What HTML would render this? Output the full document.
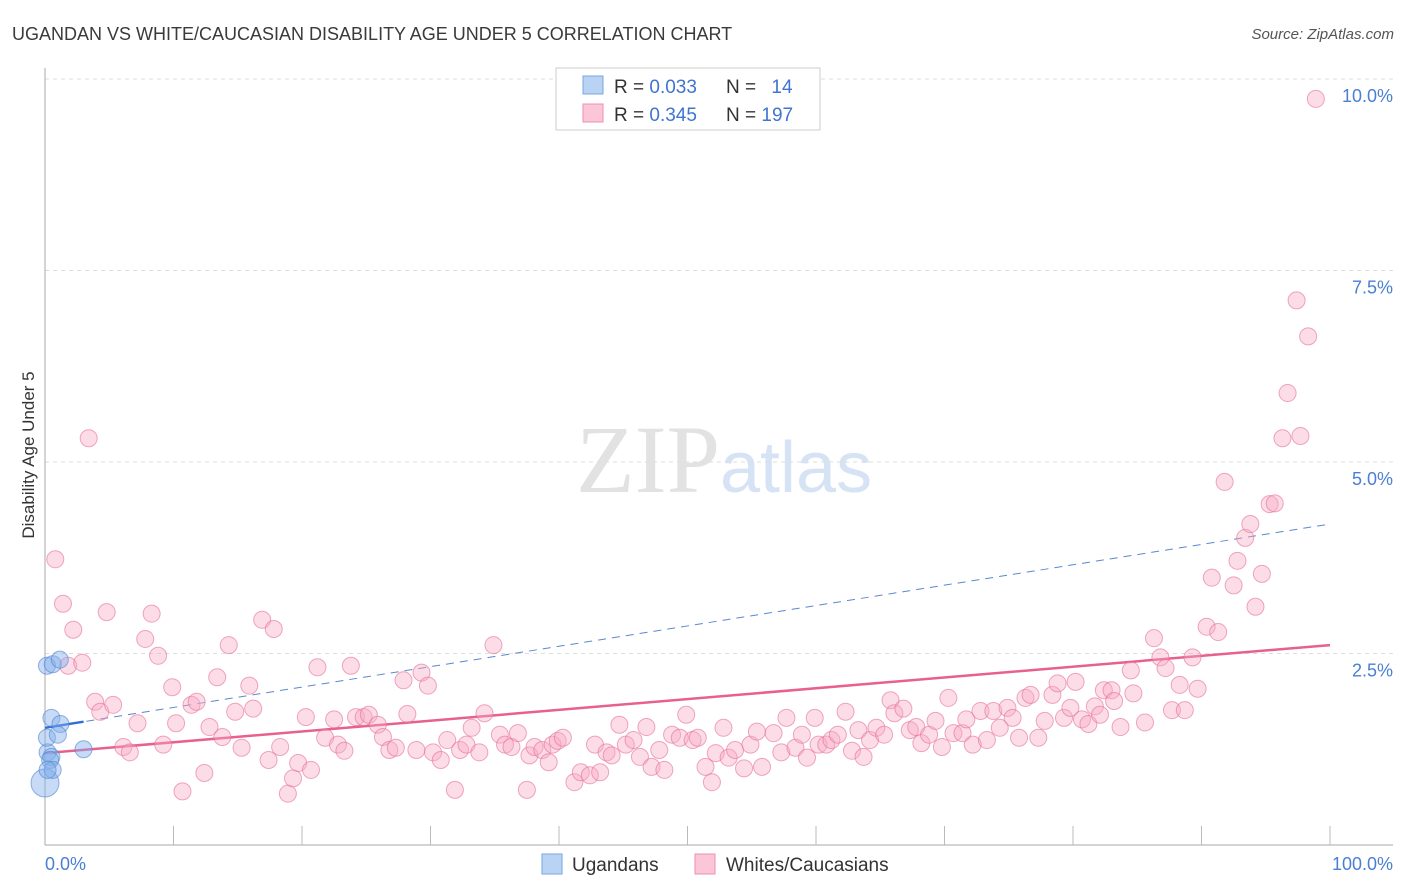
<!DOCTYPE html>
<html><head><meta charset="utf-8"><style>
body{margin:0;background:#fff;font-family:"Liberation Sans",sans-serif;}
svg{display:block}
</style></head><body>
<svg id="chart" width="1406" height="892">
<text x="12" y="40" font-size="18" fill="#3a3a3a">UGANDAN VS WHITE/CAUCASIAN DISABILITY AGE UNDER 5 CORRELATION CHART</text>
<text x="1394" y="39" font-size="15" fill="#555" font-style="italic" text-anchor="end">Source: ZipAtlas.com</text>
<text x="720" y="492" font-size="96" fill="#e2e2e2" text-anchor="end" font-family="Liberation Serif,serif">ZIP</text>
<text x="720" y="492" font-size="72" fill="#d6e3f5">atlas</text>
<text transform="translate(34,455) rotate(-90)" font-size="17" fill="#333" text-anchor="middle">Disability Age Under 5</text>
<g id="grid"></g><g id="axes"></g><g id="lines"></g><g id="pts"></g>
<g>
<rect x="556" y="68" width="264" height="62" fill="#fff" stroke="#ccc"/>
<rect x="583" y="76" width="20" height="18" fill="#b9d3f5" stroke="#7aa6e0"/>
<rect x="583" y="104" width="20" height="18" fill="#fbc6d6" stroke="#ee8fb0"/>
<text x="614" y="93" font-size="19" fill="#333">R = <tspan fill="#3f74d0">0.033</tspan></text>
<text x="726" y="93" font-size="19" fill="#333">N = <tspan fill="#3f74d0" dx="10">14</tspan></text>
<text x="614" y="121" font-size="19" fill="#333">R = <tspan fill="#3f74d0">0.345</tspan></text>
<text x="726" y="121" font-size="19" fill="#333">N = <tspan fill="#3f74d0">197</tspan></text>
</g>
<g>
<rect x="542" y="854" width="20" height="20" fill="#b9d3f5" stroke="#7aa6e0"/>
<text x="572" y="871" font-size="19" fill="#333">Ugandans</text>
<rect x="695" y="854" width="20" height="20" fill="#fbc6d6" stroke="#ee8fb0"/>
<text x="726" y="871" font-size="19" fill="#333">Whites/Caucasians</text>
</g>
</svg>
<script>
const yTicks=[2.5,5.0,7.5,10.0];
const yTickLabels=["2.5%","5.0%","7.5%","10.0%"];
const xTickLabels=["0.0%","100.0%"];
const blueX=[0.2,0.5,0.4,0,0.6,0.15,0.5,1.2,1.0,3.0,0.15,0.6,1.15,0.2];
const blueY=[1.21,1.15,1.11,0.81,0.98,1.40,1.66,1.58,1.44,1.25,2.34,2.36,2.42,0.98];
const pinkX=[0.8,3.4,1.4,2.2,1.8,2.9,3.9,4.3,5.3,4.8,8.3,7.8,8.8,9.9,7.2,10.2,6.1,6.6,9.2,10.7,12.4,13.4,11.4,11.8,12.8,13.8,14.3,14.8,15.9,16.2,15.3,16.9,17.8,17.4,18.3,18.9,19.3,19.7,20.7,20.3,21.2,21.8,22.5,22.8,23.3,23.8,24.2,24.8,25.2,25.9,26.3,26.8,27.3,27.9,28.2,28.9,29.3,29.8,30.2,30.8,31.3,31.9,32.3,32.8,33.2,33.8,34.2,34.9,35.4,35.8,36.3,36.8,37.5,37.7,38.1,38.7,39.2,39.5,39.9,40.3,41.2,41.7,42.4,43.2,42.8,43.7,44.1,44.7,45.2,45.8,46.3,46.8,47.2,47.8,48.2,48.8,49.4,49.9,50.4,50.8,51.4,51.9,52.2,52.8,53.2,53.7,54.4,54.9,55.4,55.8,56.7,57.3,57.7,58.4,58.9,59.3,59.9,60.2,60.8,61.2,61.7,62.3,62.8,63.3,63.7,64.2,64.7,65.3,65.8,66.1,66.8,67.3,67.8,68.2,68.8,69.3,69.8,70.3,70.7,71.4,71.7,72.2,72.8,73.3,73.8,74.3,74.9,75.3,75.8,76.3,76.7,77.3,77.8,78.4,78.8,79.3,79.8,80.2,80.7,81.2,81.7,82.1,82.4,83.0,83.2,83.7,84.5,84.7,85.6,86.3,86.8,87.2,87.7,88.3,88.7,89.3,89.7,90.4,90.8,91.3,91.8,92.5,92.8,93.4,93.8,94.2,94.7,95.3,95.7,96.3,96.7,97.4,97.7,98.3,98.9];
const pinkY=[3.73,5.31,3.15,2.81,2.34,2.38,1.87,1.74,1.83,3.04,3.02,2.69,2.47,2.06,1.59,1.59,1.28,1.21,1.31,0.70,0.94,2.19,1.83,1.87,1.54,1.41,2.61,1.74,2.08,1.78,1.27,2.94,2.82,1.11,1.28,0.67,0.87,1.07,0.98,1.67,2.32,1.40,1.64,1.31,1.23,2.34,1.67,1.67,1.70,1.57,1.41,1.24,1.27,2.15,1.71,1.24,2.25,2.08,1.21,1.11,1.37,0.72,1.24,1.31,1.53,1.21,1.72,2.61,1.44,1.31,1.28,1.46,0.72,1.17,1.28,1.24,1.08,1.31,1.36,1.40,0.82,0.95,0.91,0.95,1.31,1.21,1.17,1.57,1.31,1.37,1.15,1.54,1.02,1.24,0.98,1.44,1.40,1.70,1.37,1.40,1.02,0.82,1.20,1.53,1.14,1.24,1.00,1.31,1.48,1.02,1.46,1.21,1.66,1.27,1.44,1.14,1.66,1.31,1.31,1.37,1.44,1.74,1.23,1.50,1.15,1.37,1.53,1.44,1.89,1.72,1.78,1.50,1.54,1.33,1.44,1.62,1.28,1.92,1.46,1.46,1.64,1.31,1.75,1.37,1.75,1.53,1.79,1.66,1.40,1.92,1.96,1.40,1.62,1.96,2.11,1.66,1.79,2.13,1.64,1.58,1.81,1.70,2.02,2.02,1.88,1.54,2.28,1.98,1.60,2.70,2.45,2.31,1.76,2.09,1.76,2.45,2.04,2.85,3.49,2.78,4.74,3.39,3.71,4.01,4.19,3.11,3.54,4.45,4.46,5.31,5.90,7.11,5.34,6.64,9.74];
const pinkTrend=[1.20,2.61];
const blueTrend=[1.53,4.19];
const NS='http://www.w3.org/2000/svg';
const X=v=>45+v*12.85, Y=v=>845-v*76.6;
function mk(tag,attrs,parent){const e=document.createElementNS(NS,tag);for(const k in attrs)e.setAttribute(k,attrs[k]);document.getElementById(parent).appendChild(e);return e;}
yTicks.forEach((t,i)=>{
 const g=mk('line',{x1:45,x2:1393,y1:Y(t),y2:Y(t),stroke:'#ddd','stroke-dasharray':'4,4'},'grid');
 
 
 const l=mk('text',{x:1393,y:Y(t)+23,'font-size':18,fill:'#4a7fd4','text-anchor':'end'},'grid');
 l.textContent=yTickLabels[i];
 
 
});
const ax=mk('line',{x1:45,x2:45,y1:68,y2:845,stroke:'#aaa'},'axes');


const bx=mk('line',{x1:45,x2:1393,y1:845,y2:845,stroke:'#aaa'},'axes');


for(let k=1;k<=10;k++){
 const t=mk('line',{x1:X(k*10),x2:X(k*10),y1:826,y2:845,stroke:'#bbb'},'axes');
 
 
}
const xl0=mk('text',{x:45,y:870,'font-size':18,fill:'#4a7fd4'},'axes');xl0.textContent=xTickLabels[0];


const xl1=mk('text',{x:1393,y:870,'font-size':18,fill:'#4a7fd4','text-anchor':'end'},'axes');xl1.textContent=xTickLabels[1];


pinkX.forEach((x,i)=>{
 const c=mk('circle',{cx:X(x),cy:Y(pinkY[i]),r:8.5,fill:'rgba(248,170,196,0.4)',stroke:'rgba(230,110,150,0.6)','stroke-width':1},'pts');
 
 
});
blueX.forEach((x,i)=>{
 const c=mk('circle',{cx:X(x),cy:Y(blueY[i]),r:i===3?14:8.5,fill:'rgba(130,175,235,0.45)',stroke:'rgba(80,130,210,0.6)','stroke-width':1},'pts');
 
 
});
const pl=mk('line',{x1:X(0),y1:Y(pinkTrend[0]),x2:X(100),y2:Y(pinkTrend[1]),stroke:'#e8608c','stroke-width':2.5},'lines');


const bd=mk('line',{x1:X(0),y1:Y(blueTrend[0]),x2:X(100),y2:Y(blueTrend[1]),stroke:'#5b88cc','stroke-width':1,'stroke-dasharray':'8,6'},'lines');


const bs=mk('line',{x1:X(0),y1:Y(blueTrend[0]),x2:X(3),y2:Y(blueTrend[0]+(blueTrend[1]-blueTrend[0])*0.03),stroke:'#2f6fd6','stroke-width':2.5},'lines');


</script>
</body></html>
